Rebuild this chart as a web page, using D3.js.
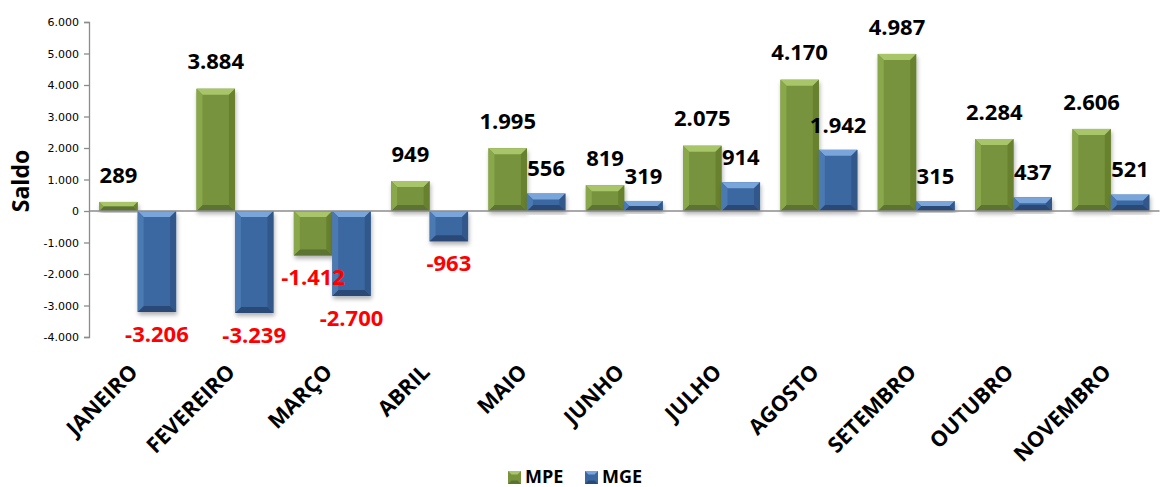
<!DOCTYPE html>
<html>
<head>
<meta charset="utf-8">
<script src="https://cdn.jsdelivr.net/npm/d3@7"></script>
<style>
  body { margin: 0; background: #fff; }
  svg text { font-family: "Open Sans", Lato, sans-serif; }
</style>
</head>
<body>
<svg id="chart"></svg>
<script>
// Data
var months = ["JANEIRO", "FEVEREIRO", "MARÇO", "ABRIL", "MAIO", "JUNHO", "JULHO", "AGOSTO", "SETEMBRO", "OUTUBRO", "NOVEMBRO"];
var seriesNames = ["MPE", "MGE"];
var mpe = [289, 3884, -1412, 949, 1995, 819, 2075, 4170, 4987, 2284, 2606];
var mge = [-3206, -3239, -2700, -963, 556, 319, 914, 1942, 315, 437, 521];
var yTicks = [-4000, -3000, -2000, -1000, 0, 1000, 2000, 3000, 4000, 5000, 6000];

var palette = {
  MPE: { face: "#77933c", top: "#a9c56b", bottom: "#5b7330", left: "#89a74b", right: "#67812f" },
  MGE: { face: "#3a67a0", top: "#79a5da", bottom: "#2a4a76", left: "#4b79b2", right: "#30588b" }
};

var svgWidth = 1164, svgHeight = 487;
var svg = d3.select("#chart").attr("width", svgWidth).attr("height", svgHeight);

// number format 1.234 style
function fmt(v) {
  var s = d3.format(",")(Math.abs(v)).replace(/,/g, ".");
  return (v < 0 ? "-" : "") + s;
}

var x0 = d3.scaleBand().domain(months).range([89, 1159.5]).padding(0);
var x1 = d3.scaleBand().domain(seriesNames).range([0, x0.bandwidth()]).paddingInner(0).paddingOuter(0.265);
var y = d3.scaleLinear().domain([-4000, 6000]).range([337, 22]);

var defs = svg.append("defs");
var f = defs.append("filter").attr("id", "shadow").attr("x", "-20%").attr("y", "-20%").attr("width", "140%").attr("height", "140%");
f.append("feDropShadow").attr("dx", 1).attr("dy", 3).attr("stdDeviation", 2.2).attr("flood-color", "#000").attr("flood-opacity", 0.3);

// Y axis
var yAxis = svg.append("g")
  .attr("class", "axis")
  .attr("transform", "translate(89,0)")
  .call(d3.axisLeft(y).tickValues(yTicks).tickSize(5).tickPadding(5).tickFormat(fmt));
yAxis.select(".domain").attr("stroke", "#8c8c8c").attr("stroke-width", 1.3);
yAxis.selectAll(".tick line").attr("stroke", "#8c8c8c").attr("stroke-width", 1.3);
yAxis.selectAll(".tick text").attr("fill", "#000").style("font-family", "'DejaVu Sans', sans-serif").style("font-size", "11px");

svg.append("text")
  .attr("transform", "translate(29,181) rotate(-90)")
  .attr("text-anchor", "middle")
  .style("font-size", "23px")
  .style("font-weight", "bold")
  .text("Saldo");

// Bars
var rows = [];
months.forEach(function (m, i) {
  rows.push({ month: m, series: "MPE", value: mpe[i] });
  rows.push({ month: m, series: "MGE", value: mge[i] });
});

var bars = svg.append("g");
rows.forEach(function (d) {
  var x = x0(d.month) + x1(d.series);
  var w = x1.bandwidth();
  var yTop = y(Math.max(0, d.value));
  var yBot = y(Math.min(0, d.value));
  var h = yBot - yTop;
  var b = Math.min(6, h / 2, w / 2);
  var c = palette[d.series];
  var g = bars.append("g").attr("filter", "url(#shadow)");
  g.append("rect").attr("x", x).attr("y", yTop).attr("width", w).attr("height", h).attr("fill", c.face);
  var pts = function (arr) { return arr.map(function (p) { return p.join(","); }).join(" "); };
  g.append("polygon").attr("fill", c.top)
    .attr("points", pts([[x, yTop], [x + w, yTop], [x + w - b, yTop + b], [x + b, yTop + b]]));
  g.append("polygon").attr("fill", c.bottom)
    .attr("points", pts([[x, yBot], [x + w, yBot], [x + w - b, yBot - b], [x + b, yBot - b]]));
  g.append("polygon").attr("fill", c.left)
    .attr("points", pts([[x, yTop], [x + b, yTop + b], [x + b, yBot - b], [x, yBot]]));
  g.append("polygon").attr("fill", c.right)
    .attr("points", pts([[x + w, yTop], [x + w - b, yTop + b], [x + w - b, yBot - b], [x + w, yBot]]));
});

// Zero line
svg.append("line")
  .attr("x1", 89).attr("x2", 1159.5)
  .attr("y1", y(0)).attr("y2", y(0))
  .attr("stroke", "#8c8c8c").attr("stroke-width", 1.3);

// Data labels
svg.append("g").selectAll("text")
  .data(rows)
  .enter()
  .append("text")
  .attr("x", function (d) { return x0(d.month) + x1(d.series) + x1.bandwidth() / 2; })
  .attr("y", function (d) {
    var off = d.series === "MPE" ? 27 : 25;
    return d.value >= 0 ? y(d.value) - off : y(d.value) + 22;
  })
  .attr("dy", "0.35em")
  .attr("text-anchor", "middle")
  .attr("fill", function (d) { return d.value < 0 ? "#ff0000" : "#000"; })
  .style("font-size", "22px")
  .style("font-weight", "bold")
  .text(function (d) { return fmt(d.value); });

// X axis labels, rotated
svg.append("g").selectAll("text")
  .data(months)
  .enter()
  .append("text")
  .attr("transform", function (m) {
    return "translate(" + (x0(m) + x0.bandwidth() / 2 - 10) + ",362) rotate(-45)";
  })
  .attr("text-anchor", "end")
  .attr("dy", "0.75em")
  .style("font-size", "21.5px")
  .style("font-weight", "bold")
  .text(function (m) { return m; });

// Legend
var legend = svg.append("g").attr("transform", "translate(508,470)");
var legItems = legend.selectAll("g")
  .data(seriesNames)
  .enter()
  .append("g")
  .attr("transform", function (d, i) { return "translate(" + (i * 77) + ",0)"; });
legItems.append("rect").attr("y", 1).attr("width", 13).attr("height", 13).attr("fill", function (d) { return palette[d].face; });
legItems.append("polygon").attr("points", "0,1 13,1 9.5,4.5 3.5,4.5").attr("fill", function (d) { return palette[d].top; });
legItems.append("polygon").attr("points", "0,14 13,14 9.5,10.5 3.5,10.5").attr("fill", function (d) { return palette[d].bottom; });
legItems.append("text")
  .attr("x", 17).attr("y", 13)
  .style("font-size", "18px")
  .style("font-weight", "bold")
  .text(function (d) { return d; });
</script>
</body>
</html>
